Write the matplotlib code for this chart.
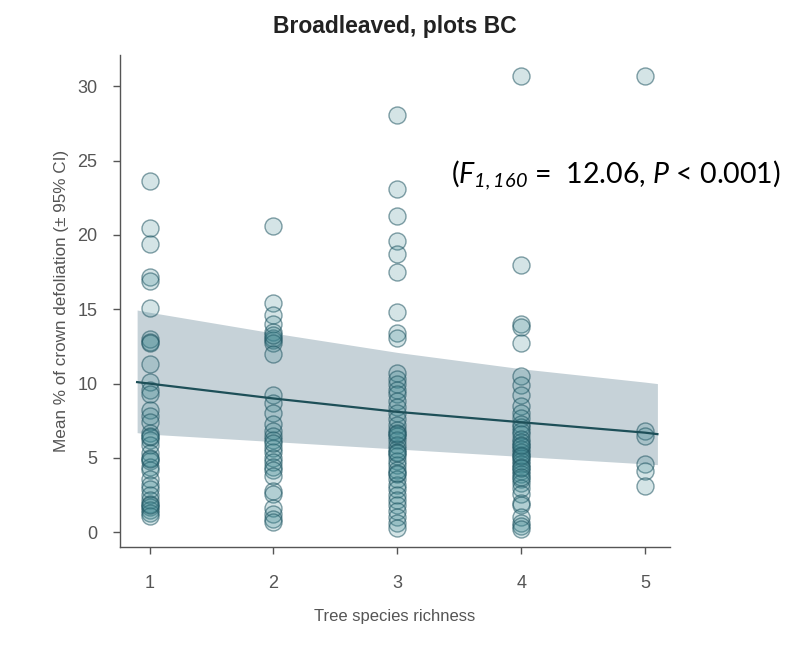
import matplotlib
matplotlib.use("Agg")
import matplotlib.pyplot as plt
import numpy as np

plt.rcParams['font.family'] = ['Liberation Sans', 'DejaVu Sans']
plt.rcParams['mathtext.fontset'] = 'custom'
plt.rcParams['mathtext.rm'] = 'Lato:italic'
plt.rcParams['mathtext.it'] = 'Lato:italic'

# ---- data ----
richness_levels = [1, 2, 3, 4, 5]
defol_r1 = [23.6, 20.5, 19.4, 17.2, 16.9, 15.1, 13.0, 12.8, 12.7, 11.3, 10.1, 9.6, 9.3,
            8.2, 7.8, 7.4, 6.7, 6.4, 6.2, 5.9, 5.3, 5.0, 4.8, 4.4, 4.2, 3.6, 3.2, 2.9,
            2.5, 2.2, 1.9, 1.7, 1.5, 1.3, 1.1, 6.5, 4.9, 1.8]
defol_r2 = [20.6, 15.4, 14.6, 14.0, 13.5, 13.1, 12.9, 12.7, 12.0, 9.2, 8.7, 8.0, 7.3,
            6.8, 6.5, 6.2, 5.7, 5.4, 5.0, 4.7, 4.4, 4.2, 3.8, 2.8, 2.6, 1.6, 1.2, 0.9,
            0.7, 13.3, 6.0]
defol_r3 = [28.1, 23.1, 21.3, 19.6, 18.7, 17.5, 14.8, 13.4, 13.1, 10.7, 10.3, 10.0, 9.6,
            9.3, 8.8, 8.4, 8.0, 7.6, 7.2, 6.9, 6.7, 6.5, 6.2, 5.9, 5.6, 5.4, 5.1, 4.8,
            4.5, 4.2, 3.9, 3.6, 3.2, 2.9, 2.5, 2.2, 1.8, 1.4, 1.0, 0.6, 0.3, 6.6, 5.3,
            4.0]
defol_r4 = [30.7, 18.0, 14.0, 13.8, 12.7, 10.5, 9.9, 9.2, 8.5, 8.0, 7.7, 7.3, 7.1, 6.8,
            6.6, 6.3, 6.1, 5.8, 5.6, 5.4, 5.2, 5.0, 4.8, 4.6, 4.4, 4.1, 3.9, 3.6, 3.3,
            3.0, 2.6, 2.0, 1.8, 1.0, 0.6, 0.4, 0.2, 5.9, 5.1, 4.3, 3.7]
defol_r5 = [30.7, 6.8, 6.5, 4.6, 4.1, 3.1]

fit_x = [0.9, 1, 2, 3, 4, 5, 5.1]
fit_mean = [10.1, 10.0, 9.0, 8.1, 7.4, 6.7, 6.6]
fit_upper = [14.95, 14.8, 13.4, 12.1, 11.0, 10.1, 10.0]
fit_lower = [6.7, 6.6, 6.1, 5.6, 5.1, 4.6, 4.55]

title = "Broadleaved, plots BC"
xlabel = "Tree species richness"
ylabel = "Mean % of crown defoliation (± 95% CI)"
stat_text = r"($\mathit{F}_{\mathit{1,160}}$ =  12.06, $\mathit{P}$ < 0.001)"

# ---- figure ----
fig = plt.figure(figsize=(7.88, 6.56), dpi=100)
ax = fig.add_axes([0.152, 0.166, 0.698, 0.75])

ax.fill_between(fit_x, fit_lower, fit_upper, color='#c6d2d8', linewidth=0, zorder=1)
ax.plot(fit_x, fit_mean, color='#1d4f58', linewidth=1.6, zorder=3)

groups = [defol_r1, defol_r2, defol_r3, defol_r4, defol_r5]
for lvl, vals in zip(richness_levels, groups):
    ax.scatter([lvl] * len(vals), vals, s=150, facecolor=(0.24, 0.53, 0.57, 0.22),
               edgecolor=(0.12, 0.33, 0.38, 0.55), linewidth=1.0, zorder=2)

ax.set_xlim(0.76, 5.2)
ax.set_ylim(-1.0, 32.1)
ax.set_xticks(richness_levels)
ax.set_yticks([0, 5, 10, 15, 20, 25, 30])

for s in ['top', 'right']:
    ax.spines[s].set_visible(False)
for s in ['left', 'bottom']:
    ax.spines[s].set_color('#555555')
    ax.spines[s].set_linewidth(1.0)
ax.tick_params(colors='#555555', labelsize=13, length=5, width=1)
ax.tick_params(axis='x', pad=15)
ax.tick_params(axis='y', pad=11)

ax.set_title(title, fontsize=16.5, fontweight='bold', pad=16, color='#222222')
ax.set_xlabel(xlabel, fontsize=12, color='#555555', labelpad=12)
ax.set_ylabel(ylabel, fontsize=12.3, color='#555555', labelpad=6)

ax.text(3.43, 24.0, stat_text, fontsize=20.5, family='Lato', ha='left', va='center',
        color='black', clip_on=False)

fig.savefig('out.png', dpi=100)
